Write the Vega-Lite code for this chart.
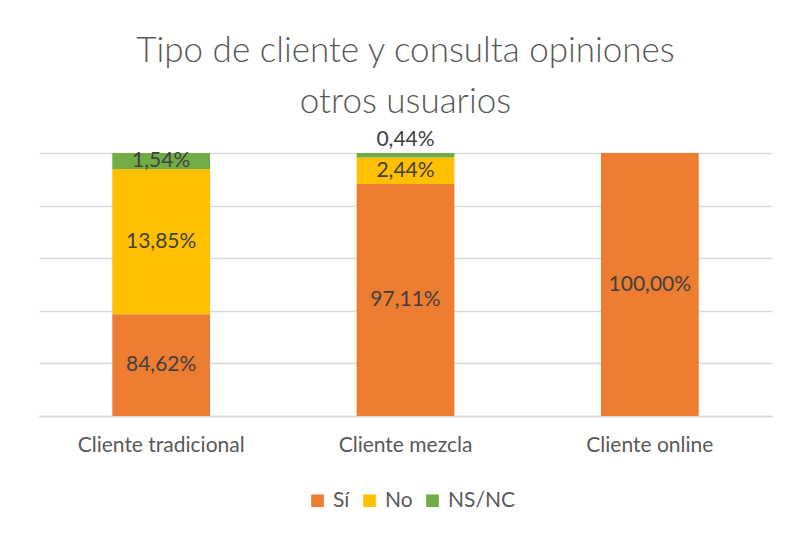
{
  "$schema": "https://vega.github.io/schema/vega-lite/v6.json",
  "width": 733,
  "height": 263,
  "autosize": {"type": "none"},
  "padding": {"left": 39, "top": 153, "right": 15, "bottom": 119},
  "background": "white",
  "config": {
    "view": {"stroke": null},
    "locale": {"number": {"decimal": ",", "thousands": ".", "grouping": [3], "currency": ["", " €"]}}
  },
  "title": {
    "text": ["Tipo de cliente y consulta opiniones", "otros usuarios"],
    "font": "Lato",
    "fontSize": 35,
    "fontWeight": 300,
    "color": "#595959",
    "lineHeight": 51,
    "anchor": "middle",
    "frame": "group",
    "offset": 9
  },
  "data": {
    "values": [
      {"tipo": "Cliente tradicional", "respuesta": "Sí", "orden": 1, "altura": 0.387, "porcentaje": 0.8462},
      {"tipo": "Cliente tradicional", "respuesta": "No", "orden": 2, "altura": 0.552, "porcentaje": 0.1385},
      {"tipo": "Cliente tradicional", "respuesta": "NS/NC", "orden": 3, "altura": 0.061, "porcentaje": 0.0154},
      {"tipo": "Cliente mezcla", "respuesta": "Sí", "orden": 1, "altura": 0.882, "porcentaje": 0.9711},
      {"tipo": "Cliente mezcla", "respuesta": "No", "orden": 2, "altura": 0.101, "porcentaje": 0.0244},
      {"tipo": "Cliente mezcla", "respuesta": "NS/NC", "orden": 3, "altura": 0.017, "porcentaje": 0.0044},
      {"tipo": "Cliente online", "respuesta": "Sí", "orden": 1, "altura": 1.0, "porcentaje": 1.0},
      {"tipo": "Cliente online", "respuesta": "No", "orden": 2, "altura": 0, "porcentaje": 0},
      {"tipo": "Cliente online", "respuesta": "NS/NC", "orden": 3, "altura": 0, "porcentaje": 0}
    ]
  },
  "transform": [
    {"stack": "altura", "groupby": ["tipo"], "sort": [{"field": "orden", "order": "ascending"}], "as": ["v0", "v1"]},
    {"calculate": "(datum.v0 + datum.v1) / 2", "as": "vmid"}
  ],
  "encoding": {
    "x": {
      "field": "tipo",
      "type": "nominal",
      "sort": ["Cliente tradicional", "Cliente mezcla", "Cliente online"],
      "scale": {"paddingInner": 0.6, "paddingOuter": 0.3},
      "axis": {
        "title": null,
        "labelAngle": 0,
        "labelFont": "Lato",
        "labelFontSize": 21,
        "labelColor": "#595959",
        "labelPadding": 18,
        "ticks": false,
        "domainColor": "#D9D9D9",
        "domainWidth": 1.5
      }
    }
  },
  "layer": [
    {
      "mark": {"type": "bar"},
      "encoding": {
        "y": {
          "field": "v1",
          "type": "quantitative",
          "scale": {"domain": [0, 1]},
          "axis": {
            "title": null,
            "values": [0, 0.2, 0.4, 0.6, 0.8, 1],
            "labels": false,
            "ticks": false,
            "domain": false,
            "grid": true,
            "gridColor": "#D9D9D9",
            "gridWidth": 1.5
          }
        },
        "y2": {"field": "v0"},
        "color": {
          "field": "respuesta",
          "type": "nominal",
          "sort": ["Sí", "No", "NS/NC"],
          "scale": {"domain": ["Sí", "No", "NS/NC"], "range": ["#ED7D31", "#FFC000", "#70AD47"]},
          "legend": {
            "title": null,
            "orient": "none",
            "direction": "horizontal",
            "legendX": 268,
            "legendY": 337,
            "symbolType": "square",
            "symbolSize": 160,
            "symbolStrokeWidth": 0,
            "labelFont": "Lato",
            "labelFontSize": 21,
            "labelColor": "#595959",
            "labelOffset": 5,
            "columnPadding": 9
          }
        }
      }
    },
    {
      "transform": [{"filter": "datum.porcentaje >= 0.01"}],
      "mark": {"type": "text", "font": "Lato", "fontSize": 21, "color": "#404040", "baseline": "middle"},
      "encoding": {
        "y": {"field": "vmid", "type": "quantitative"},
        "text": {"field": "porcentaje", "type": "quantitative", "format": ".2%"}
      }
    },
    {
      "transform": [{"filter": "datum.porcentaje > 0 && datum.porcentaje < 0.01"}],
      "mark": {"type": "text", "font": "Lato", "fontSize": 21, "color": "#404040", "baseline": "bottom", "dy": -3},
      "encoding": {
        "y": {"field": "v1", "type": "quantitative"},
        "text": {"field": "porcentaje", "type": "quantitative", "format": ".2%"}
      }
    }
  ]
}
